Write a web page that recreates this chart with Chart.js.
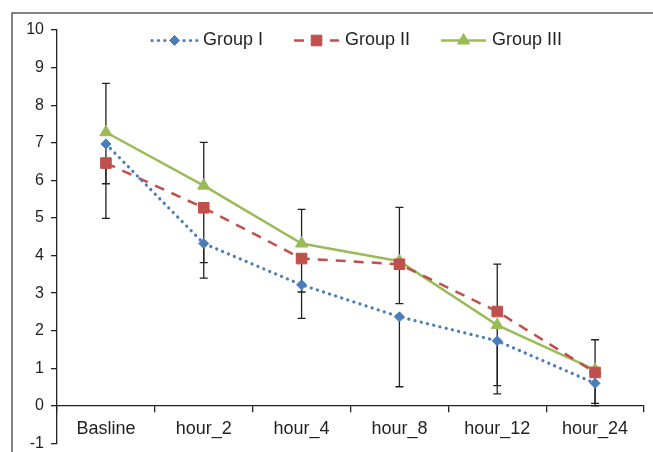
<!DOCTYPE html>
<html>
<head>
<meta charset="utf-8">
<script src="https://cdn.jsdelivr.net/npm/chart.js@4"></script>
<style>
html,body{margin:0;padding:0;background:#fff;}
#wrap{position:absolute;left:0;top:0;width:653px;height:452px;}
</style>
</head>
<body>
<div id="wrap"><canvas id="c" width="653" height="452"></canvas></div>
<script>
const categories = ['Basline', 'hour_2', 'hour_4', 'hour_8', 'hour_12', 'hour_24'];
const seriesNames = ['Group I', 'Group II', 'Group III'];
const group1 = [6.97, 4.32, 3.22, 2.37, 1.73, 0.60];
const group2 = [6.46, 5.27, 3.92, 3.77, 2.51, 0.89];
const group3 = [7.28, 5.86, 4.32, 3.85, 2.15, 0.96];
// error bar extents (plus / minus)
const group1Plus  = [0, 0, 0, 0, 0, 0];
const group1Minus = [1.98, 0.92, 0.89, 1.86, 1.41, 0.60];
const group2Plus  = [0, 0, 0, 0, 1.26, 0];
const group2Minus = [0.55, 1.46, 0.89, 1.05, 0, 0.82];
const group3Plus  = [1.30, 1.15, 0.91, 1.43, 0, 0.80];
const group3Minus = [0, 0, 0, 0, 1.61, 0];
const yTicks = [-1, 0, 1, 2, 3, 4, 5, 6, 7, 8, 9, 10];

const FONT = "'Liberation Sans', Arial, sans-serif";
const TXT = '#231f20';
const BLUE = '#4a7ebb', RED = '#c0504d', GREEN = '#9bbb59';

const errorBars = {
  id: 'errorBars',
  beforeDatasetsDraw(chart) {
    const ctx = chart.ctx, y = chart.scales.y;
    ctx.save();
    ctx.strokeStyle = '#222';
    ctx.lineWidth = 1.3;
    chart.data.datasets.forEach((ds, di) => {
      const meta = chart.getDatasetMeta(di);
      meta.data.forEach((pt, i) => {
        const v = ds.data[i];
        const hi = v + ds.errPlus[i], lo = v - ds.errMinus[i];
        const x = pt.x;
        ctx.beginPath();
        const ends = [];
        if (ds.errPlus[i] > 0) ends.push(y.getPixelForValue(hi));
        if (ds.errMinus[i] > 0) ends.push(y.getPixelForValue(lo));
        ends.forEach(py => {
          ctx.moveTo(x, y.getPixelForValue(v));
          ctx.lineTo(x, py);
          ctx.moveTo(x - 4, py);
          ctx.lineTo(x + 4, py);
        });
        ctx.stroke();
      });
    });
    ctx.restore();
  }
};

const frameAndLegend = {
  id: 'frameAndLegend',
  beforeDraw(chart) {
    const ctx = chart.ctx;
    ctx.save();
    ctx.strokeStyle = '#5a5a5a';
    ctx.lineWidth = 1.5;
    ctx.beginPath();
    ctx.moveTo(12, 460);
    ctx.lineTo(12, 13);
    ctx.lineTo(660, 13);
    ctx.stroke();
    ctx.restore();
  },
  afterDraw(chart) {
    const ctx = chart.ctx;
    ctx.save();
    ctx.font = '18px ' + FONT;
    ctx.textBaseline = 'middle';
    ctx.fillStyle = TXT;
    let x = 152;
    const ly = 40.5;
    chart.data.datasets.forEach((ds, di) => {
      const len = 45;
      ctx.save();
      ctx.strokeStyle = ds.borderColor;
      ctx.lineWidth = ds.borderWidth;
      ctx.lineCap = ds.borderCapStyle || 'butt';
      ctx.setLineDash(ds.legendDash || []);
      ctx.beginPath();
      ctx.moveTo(x, ly);
      ctx.lineTo(x + len, ly);
      ctx.stroke();
      ctx.restore();
      ctx.save();
      ctx.fillStyle = ds.pointBackgroundColor;
      ctx.strokeStyle = ds.pointBorderColor;
      ctx.lineWidth = 1;
      Chart.helpers.drawPoint(ctx, {pointStyle: ds.pointStyle, radius: ds.pointRadius, borderWidth: 1}, x + len / 2, ly);
      ctx.restore();
      const tx = x + len + 6;
      ctx.fillStyle = TXT;
      ctx.fillText(ds.label, tx, ly);
      x = tx + ctx.measureText(ds.label).width + 31;
    });
    ctx.restore();
  }
};

new Chart(document.getElementById('c'), {
  type: 'line',
  data: {
    labels: categories,
    datasets: [
      {
        label: seriesNames[0], data: group1, errPlus: group1Plus, errMinus: group1Minus,
        borderColor: BLUE, borderWidth: 3.2, borderDash: [0.1, 6.3], legendDash: [0.1, 6.3], borderCapStyle: 'round',
        pointStyle: 'rectRot', pointRadius: 5, pointBackgroundColor: BLUE, pointBorderColor: BLUE, pointBorderWidth: 1,
        tension: 0, fill: false
      },
      {
        label: seriesNames[1], data: group2, errPlus: group2Plus, errMinus: group2Minus,
        borderColor: RED, borderWidth: 2.5, borderDash: [10, 8], legendDash: [10, 8], borderCapStyle: 'butt',
        pointStyle: 'rect', pointRadius: 7.5, pointBackgroundColor: RED, pointBorderColor: RED, pointBorderWidth: 1,
        tension: 0, fill: false
      },
      {
        label: seriesNames[2], data: group3, errPlus: group3Plus, errMinus: group3Minus,
        borderColor: GREEN, borderWidth: 2.5, borderCapStyle: 'butt',
        pointStyle: 'triangle', pointRadius: 7, pointBackgroundColor: GREEN, pointBorderColor: GREEN, pointBorderWidth: 1,
        tension: 0, fill: false
      }
    ]
  },
  options: {
    responsive: false,
    animation: false,
    layout: { padding: { left: 12, top: 30, right: 9, bottom: 5 } },
    plugins: { legend: { display: false }, tooltip: { enabled: false } },
    scales: {
      x: {
        type: 'category',
        position: { y: 0 },
        offset: true,
        afterFit(scale) { scale.paddingLeft = 0; scale.paddingRight = 0; scale.paddingTop = 0; scale.paddingBottom = 0; },
        grid: { offset: true, drawOnChartArea: false, drawTicks: true, tickLength: 6, color: '#222', lineWidth: 1.3 },
        border: { display: true, color: '#222', width: 1.3 },
        ticks: { font: { family: FONT, size: 18 }, color: TXT, padding: 6, maxRotation: 0, autoSkip: false }
      },
      y: {
        min: -1, max: 10,
        afterFit(scale) { scale.width = 45; scale.paddingTop = 0; scale.paddingBottom = 0; },
        afterBuildTicks(scale) { scale.ticks = yTicks.map(v => ({ value: v })); },
        grid: { drawOnChartArea: false, drawTicks: true, tickLength: 6, color: '#222', lineWidth: 1.3 },
        border: { display: true, color: '#222', width: 1.3 },
        ticks: { font: { family: FONT, size: 16 }, color: TXT, padding: 7 }
      }
    }
  },
  plugins: [errorBars, frameAndLegend]
});
</script>
</body>
</html>
